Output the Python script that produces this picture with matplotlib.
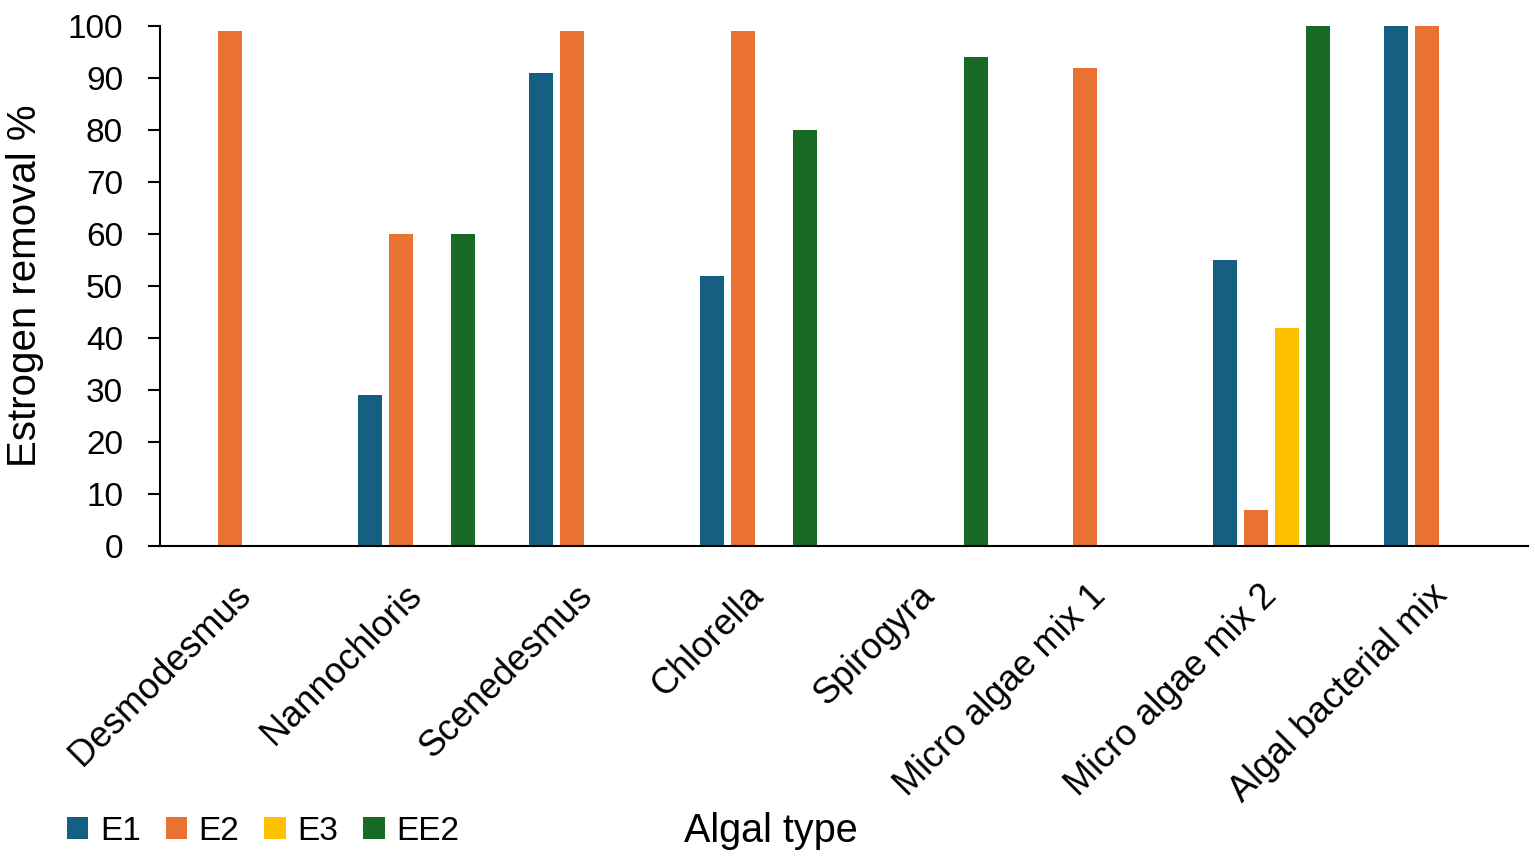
import numpy as np
import matplotlib.pyplot as plt

plt.rcParams['font.family'] = ['Liberation Sans', 'DejaVu Sans']

# Datos
categorias = ['Desmodesmus', 'Nannochloris', 'Scenedesmus', 'Chlorella',
              'Spirogyra', 'Micro algae mix 1', 'Micro algae mix 2',
              'Algal bacterial mix']
series = ['E1', 'E2', 'E3', 'EE2']
E1 = [0, 29, 91, 52, 0, 0, 55, 100]
E2 = [99, 60, 99, 99, 0, 92, 7, 100]
E3 = [0, 0, 0, 0, 0, 0, 42, 0]
EE2 = [0, 60, 0, 80, 94, 0, 100, 0]
colores = ['#156082', '#E97132', '#FFC000', '#196B24']

fig = plt.figure(figsize=(15.35, 8.63), dpi=100)
ax = fig.add_axes([0.1042, 0.3673, 0.8912, 0.6026])

x = np.arange(len(categorias))
paso = 0.181
ancho = 0.14
handles = []
for k, (nombre, valores, col) in enumerate(zip(series, [E1, E2, E3, EE2], colores)):
    pos = x + (k - 1.5) * paso
    h = ax.bar(pos, valores, width=ancho, color=col, label=nombre)
    handles.append(h)

ax.set_xlim(-0.5, len(categorias) - 0.5)
ax.set_ylim(0, 100)
ax.set_yticks(np.arange(0, 101, 10))
ax.tick_params(axis='y', labelsize=24, length=8.6, width=1.5, direction='out', pad=18)
ax.tick_params(axis='x', length=0, pad=32)
ax.set_xticks(x)
ax.set_xticklabels(categorias, rotation=45, ha='right', va='center',
                   rotation_mode='anchor', fontsize=26)

for lado in ['top', 'right']:
    ax.spines[lado].set_visible(False)
ax.spines['left'].set_linewidth(1.5)
ax.spines['bottom'].set_linewidth(1.5)

ax.set_ylabel('Estrogen removal %', fontsize=29)
ax.yaxis.set_label_coords(-0.085, 0.5)
fig.text(0.502, 0.037, 'Algal type', fontsize=28.5, ha='center', va='center')

fig.legend(handles=handles, labels=series, loc='center left',
           bbox_to_anchor=(0.0436, 0.037), ncol=4, frameon=False, fontsize=24,
           handlelength=0.64, handleheight=0.64, handletextpad=0.35,
           columnspacing=0.75, borderpad=0, borderaxespad=0)

fig.savefig('out.png', dpi=100)
